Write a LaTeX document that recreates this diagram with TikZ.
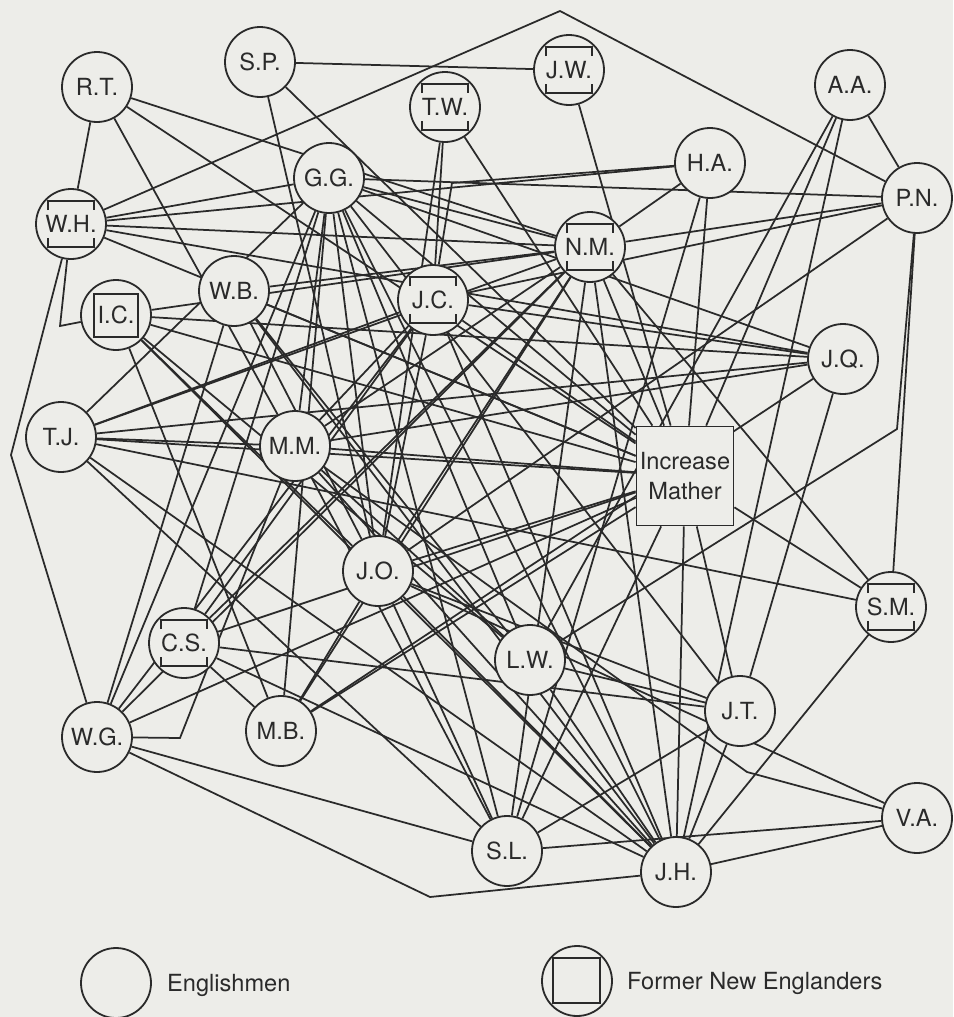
\documentclass[tikz,border=0pt]{standalone}
\usepackage{fontspec}
\setmainfont{TeX Gyre Heros}
\definecolor{paper}{HTML}{EDEDE9}
\definecolor{ink}{HTML}{2A2A2A}
\pgfdeclarelayer{paperlayer}
\pgfdeclarelayer{tielayer}
\pgfsetlayers{paperlayer,tielayer,main}
% corner brackets of the inscribed square marking a former New Englander
\newcommand\nebrackets[1]{%
  \draw[tick] ([shift={(-23,-14)}]#1.center) -- ([shift={(-23,-23)}]#1.center)
     -- ([shift={(23,-23)}]#1.center) -- ([shift={(23,-14)}]#1.center);
  \draw[tick] ([shift={(-23,14)}]#1.center) -- ([shift={(-23,23)}]#1.center)
     -- ([shift={(23,23)}]#1.center) -- ([shift={(23,14)}]#1.center);}
\begin{document}
\begin{tikzpicture}[x=1pt,y=-1pt,
  person/.style={circle, draw=ink, line width=1.8pt, fill=paper, minimum size=70pt,
    inner sep=0pt, text=ink, font=\fontsize{23.6}{28}\selectfont},
  chief/.style={rectangle, draw=ink, line width=1.8pt, fill=paper, minimum width=97pt,
    minimum height=99pt, inner sep=0pt, align=center, text=ink,
    font=\fontsize{23.6}{30}\selectfont},
  link/.style={draw=ink, line width=1.75pt},
  tick/.style={draw=ink, line width=1.7pt},
  keytext/.style={anchor=west, inner sep=0pt, text=ink, font=\fontsize{23.6}{28}\selectfont}]
\begin{pgfonlayer}{paperlayer}
\fill[paper] (0,0) rectangle (953,1017);
\end{pgfonlayer}
\useasboundingbox (0,0) rectangle (953,1017);

% people
\node[person] (SP) at (260,62) {S.P.};
\node[person] (RT) at (97,87) {R.T.};
\node[person] (TW) at (445,107) {T.W.};
\node[person] (JW) at (569,70) {J.W.};
\node[person] (AA) at (850,85) {A.A.};
\node[person] (HA) at (710,163) {H.A.};
\node[person] (GG) at (329,178) {G.G.};
\node[person] (PN) at (917,198) {P.N.};
\node[person] (WH) at (71,224) {W.H.};
\node[person] (NM) at (590,247) {N.M.};
\node[person] (WB) at (234,291) {W.B.};
\node[person] (JC) at (433,300) {J.C.};
\node[person] (IC) at (116,315) {I.C.};
\node[person] (JQ) at (843,359) {J.Q.};
\node[person] (TJ) at (61,437) {T.J.};
\node[person] (MM) at (295,446) {M.M.};
\node[chief]  (IM) at (685,476) {Increase\\Mather};
\node[person] (JO) at (378,571) {J.O.};
\node[person] (SM) at (891,607) {S.M.};
\node[person] (CS) at (184,643) {C.S.};
\node[person] (LW) at (530,660) {L.W.};
\node[person] (JT) at (740,711) {J.T.};
\node[person] (MB) at (281,731) {M.B.};
\node[person] (WG) at (97,737) {W.G.};
\node[person] (SL) at (507,851) {S.L.};
\node[person] (JH) at (676,872) {J.H.};
\node[person] (VA) at (917,818) {V.A.};

% bend points of the routed connectors
\coordinate (peak) at (560,11);
\coordinate (leftbend) at (11,455);
\coordinate (icbend) at (60,326);
\coordinate (jhbend) at (430,897);
\coordinate (pnbend) at (897,429);
\coordinate (wgbend) at (180,738);
\coordinate (habend) at (452,183);
\coordinate (vabend) at (747,772);

\begin{pgfonlayer}{tielayer}
% ties
\foreach \a/\b in {SP/JW, SP/JO, SP/IM,
  RT/WH, RT/NM, RT/MM, RT/IM,
  TW/JO, TW/JC, TW/IM, JW/IM,
  AA/PN, AA/IM, AA/JH, AA/LW,
  HA/NM, HA/IM, HA/SL,
  PN/GG, PN/NM, PN/JC, PN/SM, PN/JO,
  WH/GG, WH/HA, WH/NM, WH/JQ, WH/IM,
  GG/TJ, GG/WG, GG/CS, GG/MM, GG/JO, GG/MB, GG/LW, GG/SL, GG/JH, GG/IM, GG/JQ, GG/JT, GG/NM,
  NM/IM, NM/JO, NM/MM, NM/WB, NM/IC, NM/TJ, NM/CS, NM/SL, NM/JH, NM/MB, NM/SM, NM/WG,
  WB/WG, WB/IM, WB/JO, WB/JH, WB/LW,
  JC/IM, JC/JO, JC/MM, JC/TJ, JC/JH, JC/CS, JC/JQ, JC/WG,
  IC/JQ, IC/IM, IC/JO, IC/JH, IC/MB, IC/LW,
  JQ/JT, JQ/MM, JQ/MB, JQ/TJ,
  TJ/MM, TJ/IM, TJ/JH, TJ/SL, TJ/SM,
  MM/IM, MM/JH, MM/SL, MM/LW,
  IM/JO, IM/CS, IM/MB, IM/WG, IM/SM, IM/JT, IM/JH, IM/SL,
  JO/JH, JO/JT, JO/SL, JO/VA, JO/MB,
  WG/SL, CS/MB, CS/JH, CS/JT,
  LW/JT, LW/JH, JT/JH, JT/SL, JH/VA, SL/VA, SM/JH}
  \draw[link] (\a) -- (\b);

% routed ties
\draw[link] (WH) -- (peak) -- (PN);
\draw[link] (WH) -- (leftbend) -- (WG);
\draw[link] (WH) -- (icbend) -- (IC);
\draw[link] (WG) -- (jhbend) -- (JH);
\draw[link] (PN) -- (pnbend) -- (LW);
\draw[link] (WG) -- (wgbend) -- (MM);
\draw[link] (JC) -- (habend) -- (HA);
\draw[link] (MM) -- (vabend) -- (VA);
\end{pgfonlayer}

% former New Englanders
\nebrackets{JW}
\nebrackets{TW}
\nebrackets{NM}
\nebrackets{JC}
\nebrackets{WH}
\nebrackets{CS}
\nebrackets{SM}
\draw[tick] ([shift={(-22,-21)}]IC.center) rectangle ([shift={(22,22)}]IC.center);

% key
\node[person] (keyEng) at (116,983) {};
\node[keytext] (keyEngText) at (167,985) {Englishmen};
\node[person] (keyNE) at (577,981) {};
\draw[tick] ([shift={(-24,-23)}]keyNE.center) rectangle ([shift={(23,22)}]keyNE.center);
\node[keytext] (keyNEText) at (627,983) {Former New Englanders};
\end{tikzpicture}
\end{document}
